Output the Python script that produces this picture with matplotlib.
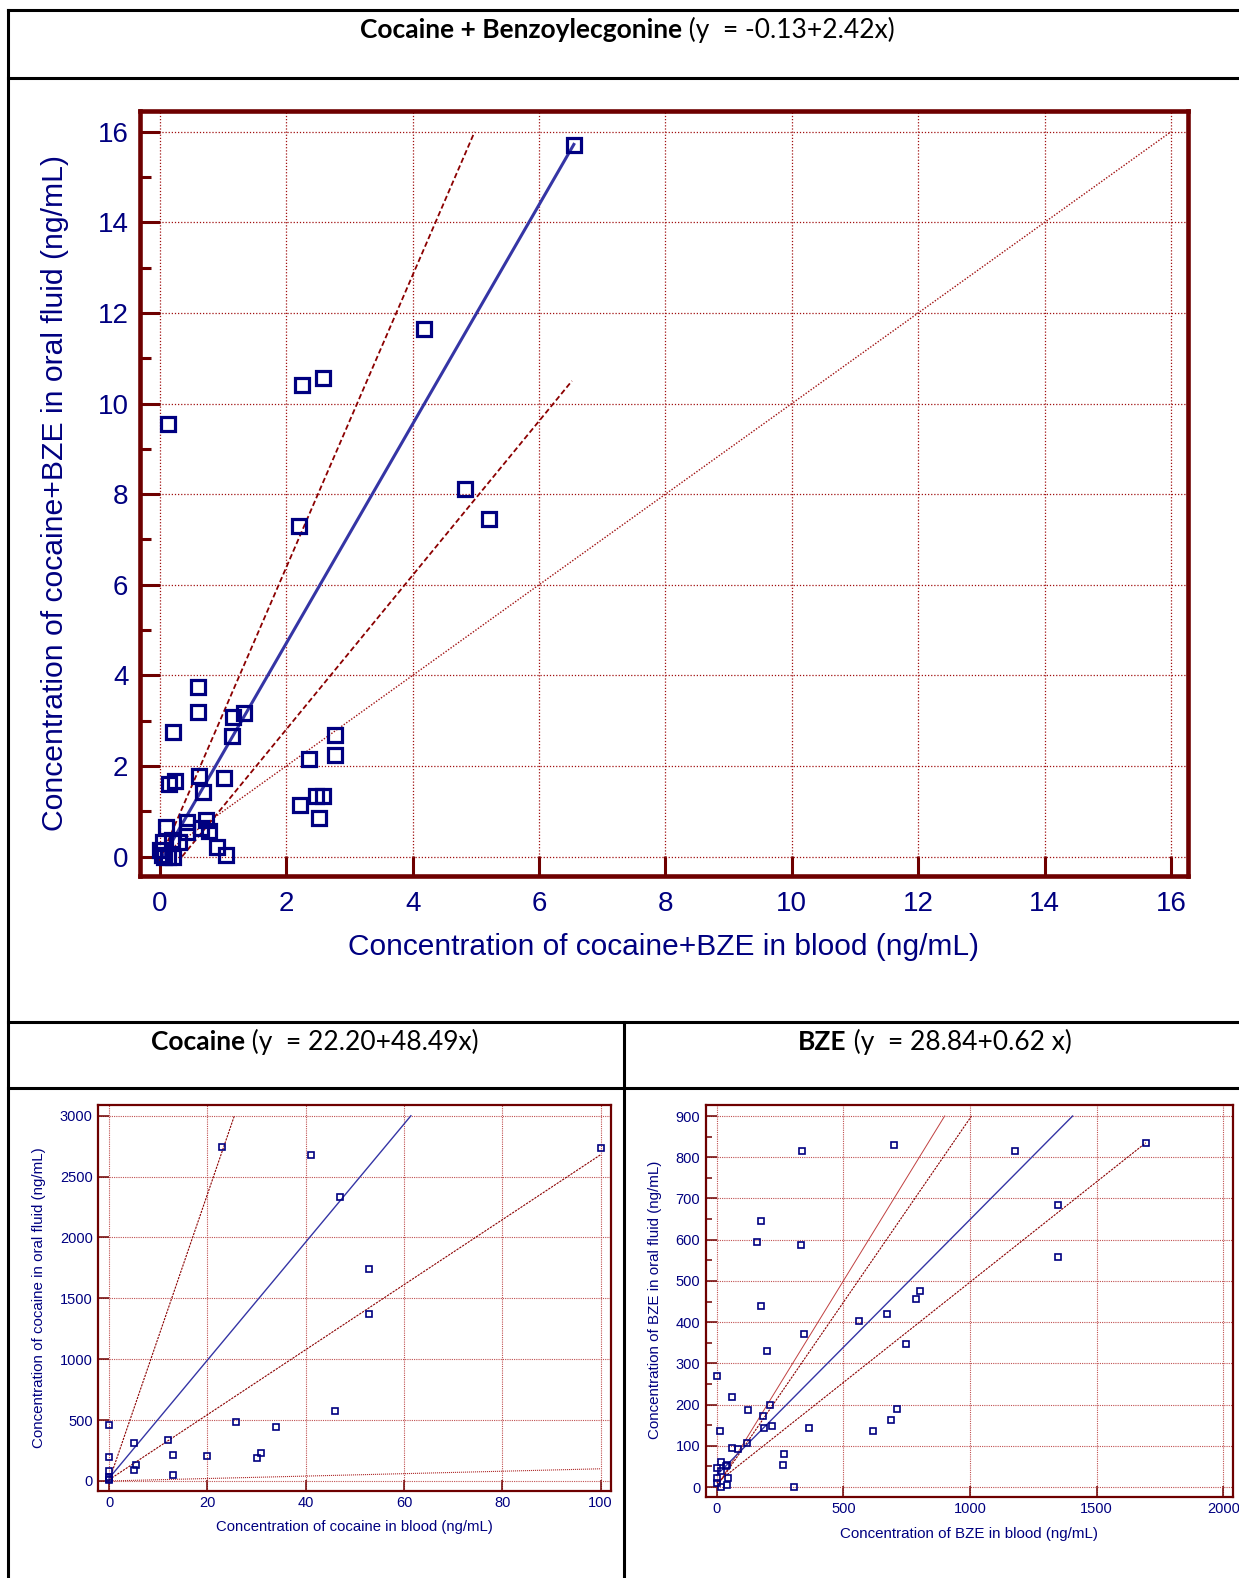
import matplotlib
matplotlib.use('Agg')
import matplotlib.pyplot as plt
from matplotlib.lines import Line2D
import numpy as np

# ---- data ----
# cocaine + BZE (ng/mL)
mix_blood = [6.55, 4.18, 2.58, 2.24, 0.12, 4.82, 5.20, 2.20,
             0.60, 0.60, 0.21, 1.16, 1.33, 1.14, 2.77, 2.77, 2.36,
             0.14, 0.23, 0.61, 1.02, 0.68, 2.22, 2.47, 2.58, 2.51,
             0.10, 0.43, 0.73, 0.43, 0.77, 0.65, 0.05, 0.19, 0.30,
             0.90, 1.04, 0.00, 0.03, 0.07, 0.12, 0.20]
mix_oral = [15.71, 11.64, 10.57, 10.40, 9.54, 8.11, 7.45, 7.30,
            3.74, 3.19, 2.76, 3.07, 3.16, 2.65, 2.69, 2.25, 2.15,
            1.61, 1.67, 1.78, 1.74, 1.43, 1.14, 1.34, 1.34, 0.84,
            0.65, 0.77, 0.81, 0.55, 0.57, 0.64, 0.33, 0.37, 0.33,
            0.22, 0.04, 0.15, 0.04, 0.00, 0.00, 0.00]
mix_fit = (-0.13, 2.42)
mix_fit_x = [0.05, 6.55]
mix_ci_hi = ([0.02, 4.98], [0.0, 16.0])
mix_ci_lo = ([0.35, 6.52], [0.0, 10.5])
mix_ident = [0, 16]

coc_blood = [23.0, 41.0, 47.0, 100.0, 52.9, 52.9, 45.9, 25.9, 34.0, 12.0,
             5.0, 0, 0, 0, 0, 0, 13.0, 20.0, 30.9, 30.2, 5.5, 5.0, 13.0, 0]
coc_oral = [2746, 2675, 2335, 2738, 1737, 1370, 575, 486, 444, 334,
            312, 456, 197, 82, 30, 6, 216, 203, 229, 192, 129, 93, 49, 15]
coc_fit = (22.20, 48.49)
coc_fit_x = [0, 61.4]
coc_ci_hi = ([0, 25.5], [0, 3000])
coc_ci_lo = ([0, 100], [10, 2680])
coc_ident = [0, 100]

bze_blood = [337, 700, 1176, 1694, 1349, 1346, 173, 161, 331, 176,
             560, 672, 785, 802, 343, 746, 198, 0, 61, 123,
             212, 183, 186, 218, 365, 12, 619, 688, 713, 120,
             61, 83, 265, 262, 306, 0, 17, 42, 36, 45,
             42, 0, 0, 17, 16]
bze_oral = [815, 830, 815, 835, 685, 557, 646, 595, 587, 438,
            403, 419, 456, 475, 370, 348, 329, 269, 218, 188,
            198, 173, 142, 147, 142, 137, 137, 162, 190, 107,
            95, 92, 81, 54, 0, 47, 60, 54, 52, 22,
            6, 22, 10, 0, 38]
bze_fit = (28.84, 0.62)
bze_fit_x = [0, 1405]
bze_ci_hi = ([10, 1006], [10, 900])
bze_ci_lo = ([0, 1694], [10, 835])
bze_ident = [0, 900]

W, H = 1239, 1578
MAROON = '#6e0000'
GRIDC = '#a01010'
NAVY = '#000080'
BLUE = '#3535a5'
SANS = ['Liberation Sans', 'DejaVu Sans']
TITLEF = ['Lato', 'DejaVu Sans']

fig = plt.figure(figsize=(W / 100, H / 100), dpi=100)


def rect(l, t, r, b):
    return [l / W, 1 - b / H, (r - l) / W, (b - t) / H]


def hline(y, x0=8, x1=W):
    fig.add_artist(Line2D([x0 / W, x1 / W], [1 - y / H, 1 - y / H],
                          transform=fig.transFigure, color='black', lw=2.2))


def vline(x, y0, y1=H):
    fig.add_artist(Line2D([x / W, x / W], [1 - y0 / H, 1 - y1 / H],
                          transform=fig.transFigure, color='black', lw=2.2))


# table borders
for yy in [10, 78, 1022, 1088]:
    hline(yy)
vline(8, 10)
vline(624, 1022)


def title(xc, yc, bold, rest, size=19):
    r = fig.canvas.get_renderer()
    t1 = fig.text(0, 1 - yc / H, bold, weight='bold', fontsize=size,
                  family=TITLEF, va='center', ha='left')
    t2 = fig.text(0, 1 - yc / H, rest, fontsize=size, family=TITLEF,
                  va='center', ha='left')
    w1 = t1.get_window_extent(r).width
    w2 = t2.get_window_extent(r).width
    x0 = xc - (w1 + w2) / 2
    t1.set_x(x0 / W)
    t2.set_x((x0 + w1) / W)


title(627, 30, 'Cocaine + Benzoylecgonine', ' (y  = -0.13+2.42x)')
title(315, 1042, 'Cocaine', ' (y  = 22.20+48.49x)')
title(935, 1042, 'BZE', ' (y  = 28.84+0.62 x)')


def panel(r, xlim, ylim, xt, yt, yminor, big):
    ax = fig.add_axes(r)
    ax.set_xlim(*xlim)
    ax.set_ylim(*ylim)
    ax.set_xticks(xt)
    ax.set_yticks(yt)
    if yminor is not None:
        ax.set_yticks(yminor, minor=True)
    for s in ax.spines.values():
        s.set_color(MAROON)
        s.set_linewidth(3.3 if big else 1.6)
    if big:
        ax.tick_params(which='major', direction='in', length=14.5, width=2.2,
                       color=MAROON, labelsize=20, labelcolor=NAVY, pad=8)
        ax.tick_params(axis='x', which='major', pad=11)
        ax.tick_params(which='minor', direction='in', length=8, width=2.2,
                       color=MAROON)
        ax.grid(True, which='major', color=GRIDC, linestyle=(0, (1, 1.5)), lw=0.9)
    else:
        ax.tick_params(which='major', direction='in', length=8, width=1.1,
                       color=MAROON, labelsize=10.5, labelcolor=NAVY, pad=4)
        ax.tick_params(which='minor', direction='in', length=4.3, width=1.1,
                       color=MAROON)
        ax.grid(True, which='major', color='#c05050', linestyle=(0, (1, 1)), lw=0.8)
    for lab in ax.get_xticklabels() + ax.get_yticklabels():
        lab.set_family(SANS)
    ax.set_axisbelow(True)
    return ax


# ---- main panel ----
ax = panel(rect(139.5, 110.5, 1188, 876), (-0.324, 16.27), (-0.43, 16.47),
           range(0, 17, 2), range(0, 17, 2), range(1, 16, 2), True)
ax.plot(mix_ident, mix_ident, color='#a01010', lw=1.0, ls=(0, (1, 1.2)))
ax.plot(*mix_ci_hi, color='#8b0000', lw=1.3, ls=(0, (3, 1.6)))
ax.plot(*mix_ci_lo, color='#8b0000', lw=1.3, ls=(0, (3, 1.6)))
fx = np.array(mix_fit_x)
ax.plot(fx, mix_fit[0] + mix_fit[1] * fx, color=BLUE, lw=2.2)
ax.plot(mix_blood, mix_oral, ls='none', marker='s', ms=9.5, mfc='none',
        mec=NAVY, mew=2.3)
fig.text(664 / W, 1 - 947 / H, 'Concentration of cocaine+BZE in blood (ng/mL)',
         fontsize=21.5, color=NAVY, family=SANS, ha='center', va='center')
fig.text(55 / W, 1 - 493 / H, 'Concentration of cocaine+BZE in oral fluid (ng/mL)',
         fontsize=21.7, color=NAVY, family=SANS, ha='center', va='center',
         rotation=90)

# ---- cocaine panel ----
ax = panel(rect(98.3, 1105, 610.7, 1490.7), (-2.18, 102.04), (-80, 3088),
           range(0, 101, 20), range(0, 3001, 500), None, False)
ax.plot(coc_ident, coc_ident, color='#b03030', lw=0.8, ls=(0, (1, 0.8)))
ax.plot(*coc_ci_hi, color='#8b0000', lw=0.8, ls=(0, (2, 1)))
ax.plot(*coc_ci_lo, color='#8b0000', lw=0.8, ls=(0, (2, 1)))
fx = np.array(coc_fit_x)
ax.plot(fx, coc_fit[0] + coc_fit[1] * fx, color=BLUE, lw=1.0)
ax.plot(coc_blood, coc_oral, ls='none', marker='s', ms=5, mfc='none',
        mec=NAVY, mew=1.2)
fig.text(354.5 / W, 1 - 1527.5 / H, 'Concentration of cocaine in blood (ng/mL)',
         fontsize=10.7, color=NAVY, family=SANS, ha='center', va='center')
fig.text(39.5 / W, 1 - 1298 / H, 'Concentration of cocaine in oral fluid (ng/mL)',
         fontsize=10.9, color=NAVY, family=SANS, ha='center', va='center',
         rotation=90)

# ---- BZE panel ----
ax = panel(rect(705.7, 1105, 1233.3, 1496.7), (-43.4, 2039.5), (-23.5, 926.7),
           range(0, 2001, 500), range(0, 901, 100), range(50, 900, 100), False)
ax.plot(bze_ident, bze_ident, color='#c04040', lw=0.7)
ax.plot(*bze_ci_hi, color='#8b0000', lw=0.8, ls=(0, (2, 1)))
ax.plot(*bze_ci_lo, color='#8b0000', lw=0.8, ls=(0, (2, 1)))
fx = np.array(bze_fit_x)
ax.plot(fx, bze_fit[0] + bze_fit[1] * fx, color=BLUE, lw=1.0)
ax.plot(bze_blood, bze_oral, ls='none', marker='s', ms=5, mfc='none',
        mec=NAVY, mew=1.2)
fig.text(969.5 / W, 1 - 1534 / H, 'Concentration of BZE in blood (ng/mL)',
         fontsize=10.9, color=NAVY, family=SANS, ha='center', va='center')
fig.text(655 / W, 1 - 1300 / H, 'Concentration of BZE in oral fluid (ng/mL)',
         fontsize=10.9, color=NAVY, family=SANS, ha='center', va='center',
         rotation=90)

fig.savefig('out.png', dpi=100)
